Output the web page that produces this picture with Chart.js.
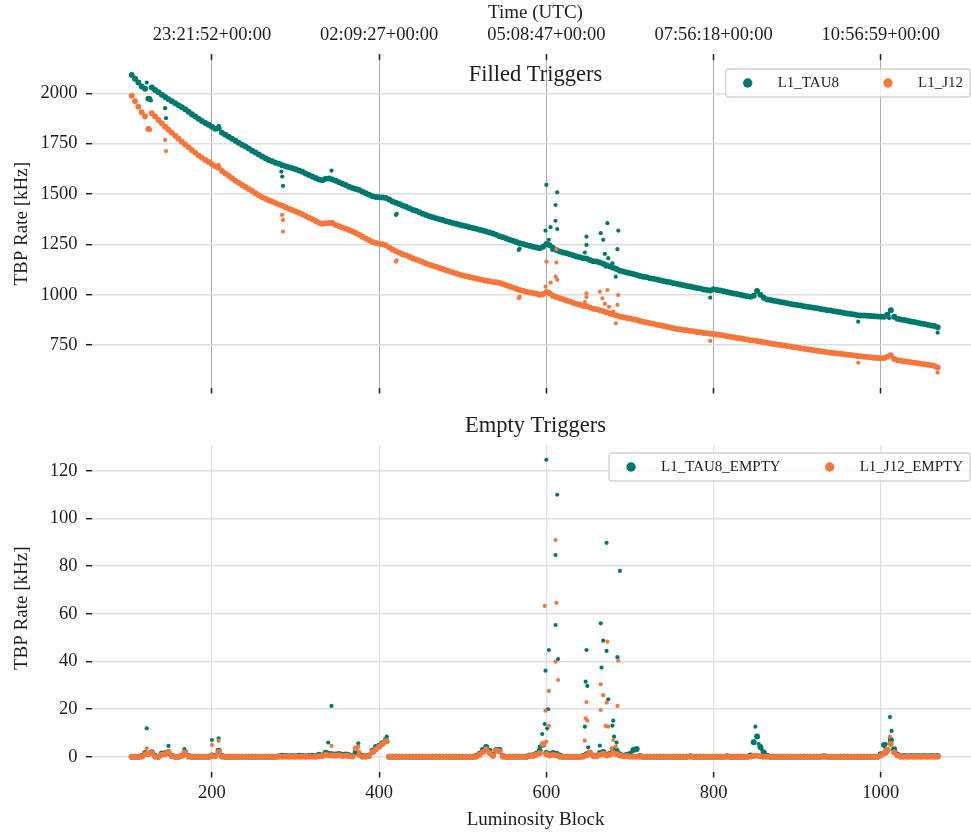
<!DOCTYPE html>
<html>
<head>
<meta charset="utf-8">
<title>L1 trigger rates</title>
<script src="https://cdn.jsdelivr.net/npm/chart.js@4.4.1/dist/chart.umd.min.js"></script>
<style>
  html, body { margin: 0; padding: 0; background: #ffffff; width: 971px; height: 838px; overflow: hidden; }
  #wrap { position: relative; width: 971px; height: 838px; overflow: hidden; }
  canvas { position: absolute; left: 0; }
  #filled { top: 0; }
  #empty { top: 410px; }
</style>
</head>
<body>
<div id="wrap">
  <canvas id="filled" width="990" height="410"></canvas>
  <canvas id="empty" width="990" height="428"></canvas>
</div>
<script>
// ---- data -----------------------------------------------------------------
const lbFirst = 104;   // first luminosity block of the fill
const lbStep = 4;      // rates listed for every 4th luminosity block

// filled-bunch TBP rates [kHz]
const tau8Rate = [
  2091, 2072, 2053, 2034, 2022, 1972, 2028, 2016, 2005, 1993,   // 104-140
  1981, 1970, 1960, 1950, 1940, 1930, 1920, 1908, 1896, 1885,   // 144-180
  1873, 1862, 1852, 1843, 1834, 1824, 1826, 1804, 1794, 1784,   // 184-220
  1774, 1764, 1754, 1744, 1735, 1725, 1715, 1706, 1696, 1686,   // 224-260
  1677, 1668, 1662, 1655, 1650, 1643, 1637, 1632, 1627, 1622,   // 264-300
  1617, 1610, 1602, 1594, 1587, 1579, 1572, 1568, 1575, 1577,   // 304-340
  1572, 1565, 1558, 1551, 1544, 1536, 1530, 1525, 1519, 1511,   // 344-380
  1503, 1496, 1489, 1485, 1484, 1482, 1480, 1472, 1463, 1456,   // 384-420
  1450, 1443, 1436, 1429, 1422, 1416, 1409, 1402, 1396, 1389,   // 424-460
  1384, 1379, 1374, 1370, 1365, 1361, 1356, 1352, 1347, 1343,   // 464-500
  1339, 1335, 1331, 1327, 1322, 1318, 1314, 1309, 1303, 1297,   // 504-540
  1290, 1285, 1279, 1273, 1267, 1261, 1255, 1251, 1247, 1243,   // 544-580
  1238, 1234, 1230, 1238, 1252, 1245, 1232, 1222, 1214, 1209,   // 584-620
  1205, 1200, 1195, 1190, 1186, 1181, 1180, 1172, 1166, 1164,   // 624-660
  1160, 1153, 1146, 1140, 1133, 1127, 1119, 1115, 1110, 1106,   // 664-700
  1102, 1097, 1093, 1089, 1086, 1082, 1079, 1075, 1071, 1068,   // 704-740
  1064, 1061, 1057, 1054, 1050, 1047, 1043, 1040, 1037, 1033,   // 744-780
  1030, 1026, 1023, 1020, 1027, 1023, 1020, 1017, 1013, 1010,   // 784-820
  1006, 1003,  999,  996,  992,  989,  995, 1018, 1000,  984,   // 824-860
   976,  973,  970,  967,  964,  961,  957,  954,  951,  949,   // 864-900
   946,  943,  940,  937,  935,  932,  929,  926,  923,  921,   // 904-940
   918,  915,  912,  909,  906,  904,  901,  898,  897,  896,   // 944-980
   895,  894,  893,  892,  890,  890,  900,  922,  890,  880,   // 984-1020
   877,  874,  870,  867,  864,  860,  857,  854,  850,  847,   // 1024-1060
   844,  838                                                    // 1064-1068
];
const j12Rate = [
  1987, 1960, 1933, 1906, 1885, 1823, 1901, 1884, 1867, 1851,   // 104-140
  1834, 1819, 1804, 1789, 1774, 1759, 1745, 1732, 1718, 1705,   // 144-180
  1691, 1680, 1669, 1658, 1648, 1637, 1630, 1614, 1602, 1590,   // 184-220
  1578, 1565, 1555, 1545, 1535, 1525, 1514, 1504, 1494, 1484,   // 224-260
  1476, 1469, 1462, 1455, 1448, 1441, 1434, 1427, 1420, 1413,   // 264-300
  1406, 1399, 1390, 1382, 1374, 1366, 1357, 1352, 1354, 1356,   // 304-340
  1354, 1346, 1339, 1333, 1327, 1321, 1314, 1306, 1297, 1288,   // 344-380
  1279, 1270, 1261, 1256, 1253, 1250, 1245, 1234, 1224, 1215,   // 384-420
  1208, 1201, 1195, 1188, 1181, 1175, 1168, 1162, 1155, 1148,   // 424-460
  1143, 1138, 1132, 1127, 1121, 1116, 1110, 1105, 1100, 1095,   // 464-500
  1091, 1088, 1084, 1080, 1076, 1073, 1069, 1066, 1063, 1061,   // 504-540
  1058, 1053, 1047, 1041, 1035, 1029, 1023, 1019, 1015, 1011,   // 544-580
  1008, 1004, 1000, 1002, 1013, 1006,  995,  988,  982,  977,   // 584-620
   971,  966,  960,  955,  950,  944,  942,  936,  930,  927,   // 624-660
   923,  917,  912,  907,  902,  896,  891,  888,  884,  881,   // 664-700
   878,  874,  869,  866,  862,  858,  855,  851,  848,  844,   // 704-740
   840,  837,  833,  830,  828,  825,  823,  820,  818,  815,   // 744-780
   813,  810,  808,  806,  805,  802,  800,  797,  794,  791,   // 784-820
   788,  785,  783,  780,  777,  774,  772,  770,  767,  764,   // 824-860
   761,  758,  755,  753,  750,  747,  745,  742,  739,  737,   // 864-900
   734,  732,  729,  727,  724,  722,  719,  716,  714,  712,   // 904-940
   710,  708,  706,  704,  702,  700,  698,  696,  694,  692,   // 944-980
   691,  689,  687,  685,  684,  685,  692,  699,  680,  674,   // 984-1020
   672,  669,  667,  664,  662,  659,  657,  654,  652,  649,   // 1024-1060
   646,  638                                                    // 1064-1068
];
// individual blocks off the main trend: [luminosity block, rate]
const tau8Outliers = [
  [122, 2053], [126, 1975], [127, 1964], [144, 1926], [145, 1876], [208, 1838],
  [283, 1611], [284, 1586], [285, 1540], [343, 1616], [420, 1396], [421, 1401],
  [567, 1222], [568, 1229], [599, 1318], [600, 1545], [603, 1272], [605, 1335],
  [607, 1222], [611, 1445], [611, 1367], [613, 1508], [613, 1326], [646, 1209],
  [648, 1288], [648, 1247], [665, 1305], [668, 1272], [670, 1202], [671, 1139],
  [673, 1355], [674, 1181], [676, 1139], [679, 1156], [683, 1089], [685, 1226],
  [686, 1318], [796, 985], [973, 866], [1010, 883], [1068, 811]
];
const j12Outliers = [
  [125, 1826], [126, 1818], [144, 1768], [145, 1713], [208, 1645], [284, 1396],
  [285, 1371], [285, 1313], [343, 1362], [420, 1164], [421, 1170], [567, 982],
  [568, 990], [599, 1040], [600, 1164], [603, 1015], [605, 1060], [607, 990],
  [611, 1089], [612, 1226], [612, 1159], [613, 1074], [646, 963], [648, 1007],
  [648, 988], [664, 1015], [667, 982], [670, 954], [671, 908], [673, 1023],
  [675, 940], [678, 900], [680, 916], [683, 858], [685, 949], [686, 998],
  [796, 770], [973, 662], [1068, 613]
];

// empty-bunch TBP rates [kHz]
const tau8EmptyRate = [
  0, 0, 0, 0.3, 1.5, 1.2, 1.8, 0.3, 0, 1.3,          // 104-140
  1.4, 1.5, 0.4, 0, 0, 0.5, 1.8, 0.3, 0, 0,          // 144-180
  0, 0, 0, 0, 0.5, 0.4, 2.5, 0.3, 0, 0,              // 184-220
  0, 0, 0, 0, 0, 0, 0, 0, 0, 0,                      // 224-260
  0, 0, 0, 0, 0.2, 0.4, 0.3, 0.2, 0.3, 0.2,          // 264-300
  0.4, 0.3, 0.2, 0.3, 0.4, 0.2, 0.8, 0.5, 1.6, 1.2,  // 304-340
  1.0, 0.9, 1.1, 0.8, 0.9, 0.6, 0.4, 2.0, 1.2, 0.3,  // 344-380
  0.2, 0.5, 2.5, 4.0, 4.6, 5.6, 7.0, 0, 0, 0,        // 384-420
  0, 0, 0, 0, 0, 0, 0, 0, 0, 0,                      // 424-460
  0, 0, 0, 0, 0, 0, 0, 0, 0, 0,                      // 464-500
  0, 0, 0, 0.3, 1.2, 2.8, 4.0, 2.5, 0.8, 2.8,        // 504-540
  2.8, 0.3, 0, 0, 0, 0, 0, 0, 0, 0.5,                // 544-580
  0.6, 1.2, 2.5, 5.0, 1.5, 1.0, 1.5, 1.2, 0.5, 0,    // 584-620
  0, 0, 0, 0, 0, 0.3, 1.0, 1.5, 0.5, 0.4,            // 624-660
  1.5, 2.0, 0.8, 1.2, 3.0, 2.5, 1.0, 0.4, 0.8, 1.1,  // 664-700
  2.8, 3.2, 0.3, 0, 0, 0, 0, 0, 0, 0,                // 704-740
  0, 0, 0, 0, 0, 0, 0, 0.2, 0, 0,                    // 744-780
  0, 0, 0, 0, 0, 0, 0, 0, 0.2, 0,                    // 784-820
  0, 0, 0, 0, 0, 0.5, 6.0, 8.5, 4.0, 1.7,            // 824-860
  0.4, 0, 0, 0, 0, 0, 0, 0, 0, 0,                    // 864-900
  0, 0, 0, 0, 0, 0, 0, 0.2, 0, 0,                    // 904-940
  0, 0, 0, 0, 0, 0, 0, 0, 0, 0,                      // 944-980
  0, 0, 0, 0, 1.0, 4.9, 2.8, 7.0, 3.1, 0.8,          // 984-1020
  0.2, 0.3, 0.2, 0.3, 0.2, 0.3, 0.2, 0.3, 0.2, 0.3,  // 1024-1060
  0.2, 0.3                                           // 1064-1068
];
const j12EmptyRate = [
  0, 0, 0, 0, 1.0, 1.3, 1.5, 0, 0, 0.8,              // 104-140
  1.0, 2.1, 0.2, 0, 0, 0.3, 1.5, 0, 0, 0,            // 144-180
  0, 0, 0, 0, 0.3, 0.2, 2.0, 0, 0, 0,                // 184-220
  0, 0, 0, 0, 0, 0, 0, 0, 0, 0,                      // 224-260
  0, 0, 0, 0, 0, 0, 0, 0, 0, 0,                      // 264-300
  0, 0, 0, 0, 0, 0, 0.2, 0.2, 0.8, 0.5,              // 304-340
  0.5, 0.4, 0.6, 0.3, 0.4, 0.2, 0.1, 3.5, 0.8, 0,    // 344-380
  0, 0.3, 1.9, 3.0, 4.2, 5.3, 6.5, 0, 0, 0,          // 384-420
  0, 0, 0, 0, 0, 0, 0, 0, 0, 0,                      // 424-460
  0, 0, 0, 0, 0, 0, 0, 0, 0, 0,                      // 464-500
  0, 0, 0, 0, 0.8, 1.8, 3.0, 1.5, 0.3, 2.5,          // 504-540
  2.2, 0, 0, 0, 0, 0, 0, 0, 0, 0.3,                  // 544-580
  0.3, 0.8, 1.4, 5.3, 1.0, 0.5, 0.8, 0.5, 0, 0,      // 584-620
  0, 0, 0, 0, 0, 0, 0.5, 1.7, 0.3, 0.2,              // 624-660
  0.8, 1.2, 0.5, 0.8, 1.5, 1.0, 0.5, 0.2, 0.3, 0,    // 664-700
  0, 0, 0, 0, 0, 0, 0, 0, 0, 0,                      // 704-740
  0, 0, 0, 0, 0, 0, 0, 0, 0, 0,                      // 744-780
  0, 0, 0, 0, 0, 0, 0, 0, 0, 0,                      // 784-820
  0, 0, 0, 0, 0, 0, 0.3, 0.4, 0.2, 0,                // 824-860
  0, 0, 0, 0, 0, 0, 0, 0, 0, 0,                      // 864-900
  0, 0, 0, 0, 0, 0, 0, 0, 0, 0,                      // 904-940
  0, 0, 0, 0, 0, 0, 0, 0, 0, 0,                      // 944-980
  0, 0, 0, 0, 0.5, 1.4, 2.8, 5.3, 1.7, 0.5,          // 984-1020
  0, 0, 0, 0, 0, 0, 0, 0, 0, 0,                      // 1024-1060
  0, 0                                               // 1064-1068
];
// beam-induced bursts in the empty bunches: [luminosity block, rate]
const tau8EmptySpikes = [
  [122, 11.9], [148, 4.5], [167, 3.2], [200, 7.0], [207, 2.8], [208, 7.7],
  [339, 5.9], [343, 21.3], [375, 5.6], [403, 5.9], [409, 8.4], [410, 6.3],
  [592, 4.2], [595, 9.5], [598, 13.7], [599, 36.1], [600, 124.7], [601, 11.9],
  [602, 19.9], [603, 44.8], [611, 55.3], [611, 84.7], [613, 110.0], [614, 41.0],
  [646, 12.6], [647, 31.5], [648, 44.8], [649, 29.7], [650, 3.9], [664, 4.6],
  [665, 56.0], [666, 37.4], [668, 48.7], [672, 44.4], [672, 89.8], [674, 24.1],
  [679, 13.0], [680, 15.1], [681, 8.4], [684, 5.9], [685, 41.8], [688, 78.0],
  [848, 6.3], [850, 12.6], [852, 8.7], [854, 5.3], [856, 4.2], [858, 2.8],
  [860, 1.7], [862, 0.7], [1003, 4.9], [1006, 5.3], [1009, 2.8], [1011, 16.6],
  [1012, 7.0], [1013, 10.8], [1016, 3.1], [1018, 1.7]
];
const j12EmptySpikes = [
  [122, 3.5], [148, 2.1], [167, 2.1], [200, 4.9], [208, 6.7], [343, 4.5],
  [375, 4.2], [376, 1.9], [394, 1.9], [400, 4.2], [405, 5.3], [409, 7.0],
  [593, 1.4], [596, 5.3], [598, 63.3], [599, 19.3], [600, 6.3], [603, 27.6],
  [603, 12.9], [611, 91.0], [611, 39.9], [612, 64.6], [614, 32.2], [646, 6.7],
  [647, 16.1], [648, 22.9], [649, 15.1], [650, 1.7], [665, 30.4], [665, 19.6],
  [668, 25.8], [671, 12.9], [672, 22.7], [673, 48.3], [674, 12.6], [676, 1.0],
  [678, 3.5], [680, 7.0], [683, 4.2], [685, 21.3], [686, 40.3], [1005, 2.8],
  [1007, 1.4], [1011, 8.4], [1012, 5.3], [1015, 1.7]
];

// axis ticks
const lbTicks = [200, 400, 600, 800, 1000];
const utcLabels = ['23:21:52+00:00', '02:09:27+00:00', '05:08:47+00:00', '07:56:18+00:00', '10:56:59+00:00'];
const filledTicks = [750, 1000, 1250, 1500, 1750, 2000];
const emptyTicks = [0, 20, 40, 60, 80, 100, 120];

// ---- styling --------------------------------------------------------------
const FONT = '"Liberation Serif", "Times New Roman", serif';
const INK = '#1c1c1c';
const TEAL = '#00796d';
const ORANGE = '#f4763b';
const LB_MIN = 56.5, LB_MAX = 1117.5;

function toPoints(rates, extra) {
  const pts = rates.map((v, i) => ({ x: lbFirst + i * lbStep, y: v }));
  return pts.concat(extra.map(([x, y]) => ({ x, y })));
}

function fixedTicks(values) {
  return scale => { scale.ticks = values.map(v => ({ value: v })); };
}

function rateAxis(min, max, ticks) {
  return {
    type: 'linear', position: 'left', min, max,
    afterBuildTicks: fixedTicks(ticks),
    afterFit: s => { s.width = 92; },
    border: { display: false },
    grid: { color: '#dedede', lineWidth: 1.4, tickLength: 6, tickColor: INK, tickWidth: 1.5 },
    ticks: { font: { family: FONT, size: 18.5 }, color: INK, padding: 8.5, autoSkip: false, callback: v => String(v) },
    title: { display: true, text: 'TBP Rate [kHz]', font: { family: FONT, size: 19 }, color: INK, padding: { top: 10.6, bottom: 0 } }
  };
}

// consecutive blocks merge into a band; isolated blocks stay small dots
function scatterSet(label, color, rates, extra, order) {
  const radii = rates.map(() => 3.0).concat(extra.map(() => 2.1));
  return {
    label, order,
    data: toPoints(rates, extra),
    backgroundColor: color, borderColor: color,
    pointRadius: radii,
    pointBorderWidth: 0, pointHoverRadius: 0, showLine: false
  };
}

// panel heading drawn inside the plotting frame
const panelTitle = {
  id: 'panelTitle',
  afterDraw(chart, args, opts) {
    const { ctx, chartArea } = chart;
    ctx.save();
    ctx.font = `22.5px ${FONT}`;
    ctx.fillStyle = INK;
    ctx.textAlign = 'center';
    ctx.textBaseline = 'alphabetic';
    ctx.fillText(opts.text, (chartArea.left + chartArea.right) / 2, opts.baseline);
    ctx.restore();
  }
};

// framed legend in the upper right corner of the plotting frame
const boxLegend = {
  id: 'boxLegend',
  afterDraw(chart, args, opts) {
    const { ctx, chartArea } = chart;
    const sets = chart.data.datasets;
    ctx.save();
    ctx.font = `15px ${FONT}`;
    const widths = sets.map(d => ctx.measureText(d.label).width);
    const lead = 22, gap = 30, colSpace = 49, tail = 7, h = 28;
    const w = lead + widths.reduce((a, b) => a + b, 0) + gap * sets.length + colSpace * (sets.length - 1) + tail;
    const right = chartArea.right - 9;
    const top = chartArea.top + opts.top;
    const left = right - w;
    ctx.beginPath();
    ctx.roundRect(left, top, w, h, 3);
    ctx.fillStyle = 'rgba(255,255,255,0.8)';
    ctx.fill();
    ctx.strokeStyle = '#d2d2d2';
    ctx.lineWidth = 1.3;
    ctx.stroke();
    const cy = top + h / 2;
    let x = left + lead;
    ctx.textAlign = 'left';
    ctx.textBaseline = 'middle';
    sets.forEach((d, i) => {
      ctx.beginPath();
      ctx.arc(x, cy, 4.7, 0, Math.PI * 2);
      ctx.fillStyle = d.backgroundColor;
      ctx.fill();
      ctx.fillStyle = INK;
      ctx.fillText(d.label, x + gap, cy + 0.5);
      x += gap + widths[i] + colSpace;
    });
    ctx.restore();
  }
};

const common = {
  responsive: false,
  animation: false,
  events: [],
  plugins: { legend: { display: false }, tooltip: { enabled: false } }
};

// ---- filled triggers ------------------------------------------------------
new Chart(document.getElementById('filled'), {
  type: 'scatter',
  data: {
    datasets: [
      scatterSet('L1_TAU8', TEAL, tau8Rate, tau8Outliers, 1),
      scatterSet('L1_J12', ORANGE, j12Rate, j12Outliers, 0)
    ]
  },
  options: {
    ...common,
    layout: { padding: { left: 0, right: 11, top: 0, bottom: 0 } },
    plugins: {
      ...common.plugins,
      panelTitle: { text: 'Filled Triggers', baseline: 80.5 },
      boxLegend: { top: 9 }
    },
    scales: {
      x: {
        type: 'linear', position: 'bottom', min: LB_MIN, max: LB_MAX,
        afterBuildTicks: fixedTicks(lbTicks),
        afterFit: s => { s.height = 22.5; },
        border: { display: false },
        grid: { drawOnChartArea: false, tickLength: 6, tickColor: INK, tickWidth: 1.5 },
        ticks: { autoSkip: false, maxRotation: 0, callback: () => '' }
      },
      time: {
        axis: 'x', type: 'linear', position: 'top', min: LB_MIN, max: LB_MAX,
        afterBuildTicks: fixedTicks(lbTicks),
        afterFit: s => { s.height = 60; },
        border: { display: false },
        grid: { color: '#ababab', lineWidth: 1, tickLength: 6, tickColor: INK, tickWidth: 1.5 },
        ticks: {
          autoSkip: false, maxRotation: 0, padding: 7.5,
          font: { family: FONT, size: 18.5 }, color: INK,
          callback: v => utcLabels[lbTicks.indexOf(v)]
        },
        title: { display: true, text: 'Time (UTC)', font: { family: FONT, size: 19 }, color: INK, padding: { top: 1.6, bottom: 0 } }
      },
      y: rateAxis(539, 2165, filledTicks)
    }
  },
  plugins: [panelTitle, boxLegend]
});

// ---- empty triggers -------------------------------------------------------
new Chart(document.getElementById('empty'), {
  type: 'scatter',
  data: {
    datasets: [
      scatterSet('L1_TAU8_EMPTY', TEAL, tau8EmptyRate, tau8EmptySpikes, 1),
      scatterSet('L1_J12_EMPTY', ORANGE, j12EmptyRate, j12EmptySpikes, 0)
    ]
  },
  options: {
    ...common,
    layout: { padding: { left: 0, right: 11, top: 35, bottom: 0 } },
    plugins: {
      ...common.plugins,
      panelTitle: { text: 'Empty Triggers', baseline: 22 },
      boxLegend: { top: 8 }
    },
    scales: {
      x: {
        type: 'linear', position: 'bottom', min: LB_MIN, max: LB_MAX,
        afterBuildTicks: fixedTicks(lbTicks),
        afterFit: s => { s.height = 66.5; },
        border: { display: false },
        grid: { color: '#dedede', lineWidth: 1.2, tickLength: 6, tickColor: INK, tickWidth: 1.5 },
        ticks: {
          autoSkip: false, maxRotation: 0, padding: 5,
          font: { family: FONT, size: 18.5 }, color: INK,
          callback: v => String(v)
        },
        title: { display: true, text: 'Luminosity Block', font: { family: FONT, size: 19 }, color: INK, padding: { top: 0, bottom: 6.6 } }
      },
      y: rateAxis(-6.24, 130.9, emptyTicks)
    }
  },
  plugins: [panelTitle, boxLegend]
});
</script>
</body>
</html>
